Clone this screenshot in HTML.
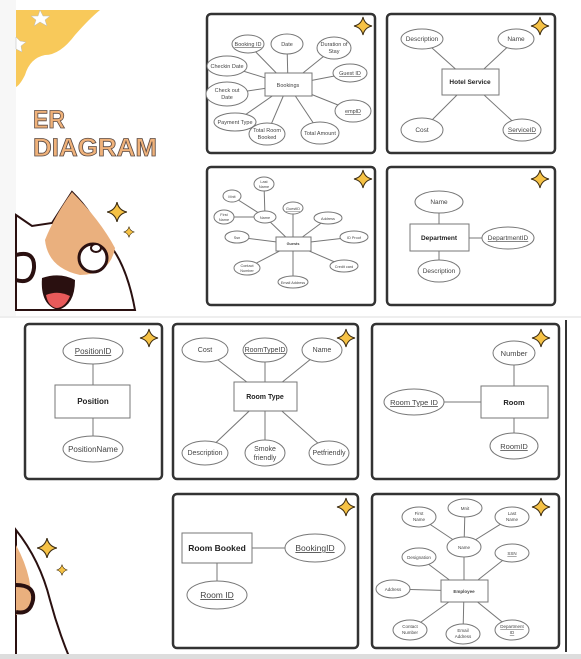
<!DOCTYPE html>
<html><head><meta charset="utf-8"><style>
html,body{margin:0;padding:0;background:#fff;width:581px;height:659px;overflow:hidden}
svg{display:block}
text{font-family:"Liberation Sans",sans-serif;fill:#444}
.e{fill:#fff;stroke:#777;stroke-width:1}
.r{fill:#fff;stroke:#777;stroke-width:1}
.l{stroke:#777;stroke-width:1}
.p{fill:#fff;stroke:#333;stroke-width:2.5}
.u{text-decoration:underline}
</style></head><body>
<svg width="581" height="659" viewBox="0 0 581 659" xmlns="http://www.w3.org/2000/svg">
<defs>
<path id="st" d="M0,-9 Q1.6,-1.6 9,0 Q1.6,1.6 0,9 Q-1.6,1.6 -9,0 Q-1.6,-1.6 0,-9Z" fill="#f6c245" stroke="#3a2a10" stroke-width="1"/>
</defs>
<rect x="0" y="0" width="16" height="318" fill="#f7f7f7"/>
<rect x="0" y="318" width="16" height="341" fill="#fff"/>
<path d="M16,10 L100,10 Q90,18 75,35 Q60,55 45,55 Q30,58 25,75 Q20,85 16,87Z" fill="#f8c95a"/>
<path d="M40,10 l3,6 l7,0 l-5,4 l2,6 l-7,-4 l-6,4 l2,-6 l-5,-4 l7,0z" fill="#fff" stroke="#bbb" stroke-width="0.5"/>
<path d="M16,37 l4,4 l6,1 l-5,4 l1,6 l-6,-3z" fill="#fff" stroke="#bbb" stroke-width="0.5"/>
<text x="33" y="128" textLength="32" lengthAdjust="spacingAndGlyphs" style="font-size:25px;font-weight:bold;fill:#f0b27a;stroke:#5a4a44;stroke-width:0.8">ER</text>
<text x="33" y="156" textLength="124" lengthAdjust="spacingAndGlyphs" style="font-size:25px;font-weight:bold;fill:#f0b27a;stroke:#5a4a44;stroke-width:0.8">DIAGRAM</text>
<path d="M16,215 L32,226 L52,223 L72,192 Q95,215 100,235 Q125,255 135,310 L16,310Z" fill="#fff" stroke="#2a1010" stroke-width="2"/>
<path d="M72,192 Q55,215 45,240 Q48,268 80,275 Q110,275 115,248 Q100,220 72,192Z" fill="#eab07e"/>
<circle cx="93" cy="258" r="14" fill="#fff" stroke="#2a1010" stroke-width="3"/>
<ellipse cx="96" cy="248" rx="5" ry="4" fill="#fff" stroke="#2a1010" stroke-width="2"/>
<path d="M16,255 Q35,250 34,268 Q32,285 16,280" fill="none" stroke="#2a1010" stroke-width="4"/>
<path d="M42,278 Q60,272 75,280 Q75,305 58,310 Q40,305 42,278Z" fill="#2a1010"/>
<path d="M46,295 Q58,290 70,296 Q65,308 56,308 Q48,306 46,295Z" fill="#e85a5a"/>
<use href="#st" transform="translate(117,212) scale(1.1)"/>
<use href="#st" transform="translate(129,232) scale(0.6)"/>
<path d="M16,530 Q40,560 50,600 Q58,630 70,659 L16,659Z" fill="#fff" stroke="#2a1010" stroke-width="2"/>
<path d="M16,545 Q35,580 30,610 L16,615Z" fill="#eab07e"/>
<path d="M16,585 Q35,585 33,600 Q30,615 16,612" fill="none" stroke="#2a1010" stroke-width="4"/>
<use href="#st" transform="translate(47,548) scale(1.1)"/>
<use href="#st" transform="translate(62,570) scale(0.6)"/>
<line x1="566" y1="320" x2="566" y2="652" stroke="#333" stroke-width="2"/>
<rect x="0" y="654" width="581" height="5" fill="#ddd"/>
<rect x="0" y="316" width="581" height="2" fill="#eee"/>

<rect class="p" x="207" y="14" width="168" height="139" rx="4"/>
<rect class="p" x="387" y="14" width="168" height="139" rx="4"/>
<rect class="p" x="207" y="167" width="168" height="138" rx="4"/>
<rect class="p" x="387" y="167" width="168" height="138" rx="4"/>
<rect class="p" x="25" y="324" width="137" height="155" rx="4"/>
<rect class="p" x="173" y="324" width="185" height="155" rx="4"/>
<rect class="p" x="372" y="324" width="187" height="155" rx="4"/>
<rect class="p" x="173" y="494" width="185" height="154" rx="4"/>
<rect class="p" x="372" y="494" width="187" height="154" rx="4"/>
<use href="#st" transform="translate(363,26)"/>
<use href="#st" transform="translate(540,26)"/>
<use href="#st" transform="translate(363,179)"/>
<use href="#st" transform="translate(540,179)"/>
<use href="#st" transform="translate(149,338)"/>
<use href="#st" transform="translate(346,338)"/>
<use href="#st" transform="translate(541,338)"/>
<use href="#st" transform="translate(346,507)"/>
<use href="#st" transform="translate(541,507)"/>

<g font-size="5.5" text-anchor="middle">
<line class="l" x1="288" y1="85" x2="248" y2="44"/><line class="l" x1="288" y1="85" x2="287" y2="44"/>
<line class="l" x1="288" y1="85" x2="334" y2="48"/><line class="l" x1="288" y1="85" x2="227" y2="66"/>
<line class="l" x1="288" y1="85" x2="350" y2="73"/><line class="l" x1="288" y1="85" x2="227" y2="94"/>
<line class="l" x1="288" y1="85" x2="353" y2="111"/><line class="l" x1="288" y1="85" x2="235" y2="122"/>
<line class="l" x1="288" y1="85" x2="267" y2="134"/><line class="l" x1="288" y1="85" x2="320" y2="133"/>
<rect class="r" x="265" y="73" width="47" height="23"/><text x="288" y="87">Bookings</text>
<ellipse class="e" cx="248" cy="44" rx="16" ry="9"/><text x="248" y="46" class="u">Booking ID</text>
<ellipse class="e" cx="287" cy="44" rx="16" ry="10"/><text x="287" y="46">Date</text>
<ellipse class="e" cx="334" cy="48" rx="17" ry="11"/><text x="334" y="46">Duration of</text><text x="334" y="53">Stay</text>
<ellipse class="e" cx="227" cy="66" rx="20" ry="10"/><text x="227" y="68">Checkin Date</text>
<ellipse class="e" cx="350" cy="73" rx="17" ry="9"/><text x="350" y="75" class="u">Guest ID</text>
<ellipse class="e" cx="227" cy="94" rx="21" ry="12"/><text x="227" y="92">Check out</text><text x="227" y="99">Date</text>
<ellipse class="e" cx="353" cy="111" rx="18" ry="11"/><text x="353" y="113" class="u">emplD</text>
<ellipse class="e" cx="235" cy="122" rx="21" ry="9"/><text x="235" y="124">Payment Type</text>
<ellipse class="e" cx="267" cy="134" rx="18" ry="11"/><text x="267" y="132">Total Room</text><text x="267" y="139">Booked</text>
<ellipse class="e" cx="320" cy="133" rx="19" ry="11"/><text x="320" y="135">Total Amount</text>
</g>

<g font-size="6.5" text-anchor="middle">
<line class="l" x1="470" y1="82" x2="422" y2="39"/><line class="l" x1="470" y1="82" x2="516" y2="39"/>
<line class="l" x1="470" y1="82" x2="422" y2="130"/><line class="l" x1="470" y1="82" x2="522" y2="130"/>
<rect class="r" x="442" y="69" width="57" height="26"/><text x="470" y="84" font-weight="bold" style="fill:#222">Hotel Service</text>
<ellipse class="e" cx="422" cy="39" rx="21" ry="10"/><text x="422" y="41">Description</text>
<ellipse class="e" cx="516" cy="39" rx="18" ry="10"/><text x="516" y="41">Name</text>
<ellipse class="e" cx="422" cy="130" rx="21" ry="12"/><text x="422" y="132">Cost</text>
<ellipse class="e" cx="522" cy="130" rx="19" ry="11"/><text x="522" y="132" class="u">ServiceID</text>
</g>

<g font-size="3.8" text-anchor="middle">
<line class="l" x1="293" y1="244" x2="265" y2="217"/><line class="l" x1="265" y1="217" x2="232" y2="196"/>
<line class="l" x1="265" y1="217" x2="264" y2="184"/><line class="l" x1="265" y1="217" x2="224" y2="217"/>
<line class="l" x1="293" y1="244" x2="293" y2="208"/><line class="l" x1="293" y1="244" x2="328" y2="218"/>
<line class="l" x1="293" y1="244" x2="354" y2="237"/><line class="l" x1="293" y1="244" x2="237" y2="237"/>
<line class="l" x1="293" y1="244" x2="247" y2="268"/><line class="l" x1="293" y1="244" x2="293" y2="282"/>
<line class="l" x1="293" y1="244" x2="344" y2="266"/>
<rect class="r" x="276" y="237" width="35" height="14"/><text x="293" y="245" font-weight="bold">Guests</text>
<ellipse class="e" cx="265" cy="217" rx="11" ry="6"/><text x="265" y="219">Name</text>
<ellipse class="e" cx="232" cy="196" rx="9" ry="6"/><text x="232" y="198">Mnit</text>
<ellipse class="e" cx="264" cy="184" rx="10" ry="7"/><text x="264" y="183">Last</text><text x="264" y="188">Name</text>
<ellipse class="e" cx="224" cy="217" rx="10" ry="7"/><text x="224" y="216">First</text><text x="224" y="221">Name</text>
<ellipse class="e" cx="293" cy="208" rx="10" ry="6"/><text x="293" y="210" class="u">GuestID</text>
<ellipse class="e" cx="328" cy="218" rx="14" ry="6"/><text x="328" y="220">Address</text>
<ellipse class="e" cx="354" cy="237" rx="14" ry="6"/><text x="354" y="239">ID Proof</text>
<ellipse class="e" cx="237" cy="237" rx="12" ry="6"/><text x="237" y="239">Ssn</text>
<ellipse class="e" cx="247" cy="268" rx="13" ry="7"/><text x="247" y="267">Contact</text><text x="247" y="272">Number</text>
<ellipse class="e" cx="293" cy="282" rx="15" ry="6"/><text x="293" y="284">Email Address</text>
<ellipse class="e" cx="344" cy="266" rx="14" ry="6"/><text x="344" y="268">Credit card</text>
</g>

<g font-size="6.5" text-anchor="middle">
<line class="l" x1="439" y1="202" x2="439" y2="271"/><line class="l" x1="469" y1="238" x2="482" y2="238"/>
<rect class="r" x="410" y="224" width="59" height="27"/><text x="439" y="240" font-weight="bold" style="fill:#222">Department</text>
<ellipse class="e" cx="439" cy="202" rx="24" ry="11"/><text x="439" y="204">Name</text>
<ellipse class="e" cx="508" cy="238" rx="26" ry="11"/><text x="508" y="240" class="u">DepartmentID</text>
<ellipse class="e" cx="439" cy="271" rx="21" ry="11"/><text x="439" y="273">Description</text>
</g>

<g font-size="8" text-anchor="middle">
<line class="l" x1="93" y1="351" x2="93" y2="449"/>
<rect class="r" x="55" y="385" width="75" height="33"/><text x="93" y="404" font-weight="bold" style="fill:#222">Position</text>
<ellipse class="e" cx="93" cy="351" rx="30" ry="13"/><text x="93" y="354" class="u">PositionID</text>
<ellipse class="e" cx="93" cy="449" rx="30" ry="13"/><text x="93" y="452">PositionName</text>
</g>

<g font-size="7" text-anchor="middle">
<line class="l" x1="265" y1="396" x2="205" y2="350"/><line class="l" x1="265" y1="396" x2="265" y2="350"/>
<line class="l" x1="265" y1="396" x2="322" y2="350"/><line class="l" x1="265" y1="396" x2="205" y2="453"/>
<line class="l" x1="265" y1="396" x2="265" y2="453"/><line class="l" x1="265" y1="396" x2="329" y2="453"/>
<rect class="r" x="234" y="382" width="63" height="29"/><text x="265" y="399" font-weight="bold" style="fill:#222">Room Type</text>
<ellipse class="e" cx="205" cy="350" rx="23" ry="12"/><text x="205" y="352">Cost</text>
<ellipse class="e" cx="265" cy="350" rx="22" ry="12"/><text x="265" y="352" class="u">RoomTypeID</text>
<ellipse class="e" cx="322" cy="350" rx="20" ry="12"/><text x="322" y="352">Name</text>
<ellipse class="e" cx="205" cy="453" rx="23" ry="12"/><text x="205" y="455">Description</text>
<ellipse class="e" cx="265" cy="453" rx="20" ry="13"/><text x="265" y="451">Smoke</text><text x="265" y="460">friendly</text>
<ellipse class="e" cx="329" cy="453" rx="20" ry="12"/><text x="329" y="455">Petfriendly</text>
</g>

<g font-size="7.5" text-anchor="middle">
<line class="l" x1="514" y1="353" x2="514" y2="446"/><line class="l" x1="444" y1="402" x2="481" y2="402"/>
<rect class="r" x="481" y="386" width="67" height="32"/><text x="514" y="405" font-weight="bold" style="fill:#222">Room</text>
<ellipse class="e" cx="514" cy="353" rx="21" ry="12"/><text x="514" y="356">Number</text>
<ellipse class="e" cx="414" cy="402" rx="30" ry="13"/><text x="414" y="405" class="u">Room Type ID</text>
<ellipse class="e" cx="514" cy="446" rx="24" ry="13"/><text x="514" y="449" class="u">RoomID</text>
</g>

<g font-size="8.5" text-anchor="middle">
<line class="l" x1="252" y1="548" x2="285" y2="548"/><line class="l" x1="217" y1="563" x2="217" y2="581"/>
<rect class="r" x="182" y="533" width="70" height="30"/><text x="217" y="551" font-weight="bold" style="fill:#222">Room Booked</text>
<ellipse class="e" cx="315" cy="548" rx="30" ry="14"/><text x="315" y="551" class="u">BookingID</text>
<ellipse class="e" cx="217" cy="595" rx="30" ry="14"/><text x="217" y="598" class="u">Room ID</text>
</g>

<g font-size="4.5" text-anchor="middle">
<line class="l" x1="464" y1="591" x2="464" y2="547"/><line class="l" x1="464" y1="547" x2="465" y2="508"/>
<line class="l" x1="464" y1="547" x2="419" y2="517"/><line class="l" x1="464" y1="547" x2="512" y2="517"/>
<line class="l" x1="464" y1="591" x2="419" y2="557"/><line class="l" x1="464" y1="591" x2="512" y2="553"/>
<line class="l" x1="464" y1="591" x2="393" y2="589"/><line class="l" x1="464" y1="591" x2="410" y2="630"/>
<line class="l" x1="464" y1="591" x2="463" y2="634"/><line class="l" x1="464" y1="591" x2="512" y2="630"/>
<rect class="r" x="441" y="580" width="47" height="22"/><text x="464" y="593" font-weight="bold">Employee</text>
<ellipse class="e" cx="464" cy="547" rx="17" ry="10"/><text x="464" y="549">Name</text>
<ellipse class="e" cx="465" cy="508" rx="17" ry="9"/><text x="465" y="510">Mnit</text>
<ellipse class="e" cx="419" cy="517" rx="17" ry="10"/><text x="419" y="515">First</text><text x="419" y="521">Name</text>
<ellipse class="e" cx="512" cy="517" rx="17" ry="10"/><text x="512" y="515">Last</text><text x="512" y="521">Name</text>
<ellipse class="e" cx="419" cy="557" rx="17" ry="9"/><text x="419" y="559">Designation</text>
<ellipse class="e" cx="512" cy="553" rx="17" ry="9"/><text x="512" y="555" class="u">SSN</text>
<ellipse class="e" cx="393" cy="589" rx="17" ry="9"/><text x="393" y="591">Address</text>
<ellipse class="e" cx="410" cy="630" rx="17" ry="10"/><text x="410" y="628">Contact</text><text x="410" y="634">Number</text>
<ellipse class="e" cx="463" cy="634" rx="17" ry="10"/><text x="463" y="632">Email</text><text x="463" y="638">Address</text>
<ellipse class="e" cx="512" cy="630" rx="17" ry="10"/><text x="512" y="628" class="u">Department</text><text x="512" y="634" class="u">ID</text>
</g>
</svg>
</body></html>
